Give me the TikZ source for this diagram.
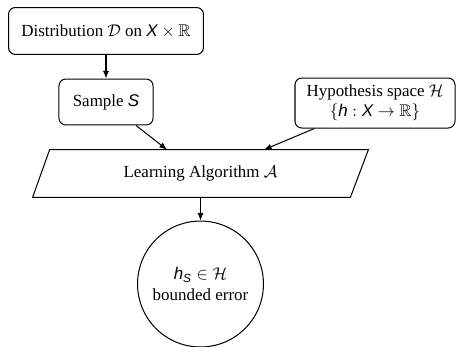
\documentclass[tikz,border=0pt]{standalone}
\usepackage{amsmath,amssymb}
\usepackage{fontspec}
\setmainfont{Liberation Serif}
\newfontfamily\mysans{Liberation Sans}
\newcommand{\sv}[1]{\text{\mysans\itshape #1}}
\usetikzlibrary{calc,arrows.meta}
\begin{document}
\begin{tikzpicture}[x=0.59pt,y=-0.59pt,
  box/.style={draw, rounded corners=4pt, align=center, inner sep=0pt, line width=0.6pt},
  arr/.style={-{Latex[length=4.5pt,width=3.6pt]}, line width=0.6pt}]
\useasboundingbox (0,0) rectangle (456,346);
\node[box, minimum width=115pt, minimum height=27.7pt] (dist) at (106,31) {Distribution $\mathcal{D}$ on $\sv{X}\times\mathbb{R}$};
\node[box, minimum width=55.5pt, minimum height=27.1pt] (sample) at (106,102) {Sample $\sv{S}$};
\node[box, minimum width=94.4pt, minimum height=29.5pt] (hyp) at (375,103) {Hypothesis space $\mathcal{H}$\\$\{\sv{h} : \sv{X} \rightarrow \mathbb{R}\}$};
\node[inner sep=0pt, minimum width=197.7pt, minimum height=27.7pt] (alg) at (200.5,173.5) {Learning Algorithm $\mathcal{A}$};
\draw[line width=0.6pt] (alg.south west) -- ($(alg.south east)+(-18,0)$) -- (alg.north east) -- ($(alg.north west)+(17,0)$) -- cycle;
\node[draw, circle, line width=0.6pt, minimum size=74.3pt, inner sep=0pt, align=center] (res) at (200.5,284) {$\sv{h}_{\sv{S}} \in \mathcal{H}$\\bounded error};
\coordinate (inA) at ($(alg.north)+(-33.5,0)$);
\coordinate (inB) at ($(alg.north)+(63.5,0)$);
\draw[arr] (dist) -- (sample);
\draw[arr] (sample) -- (inA);
\draw[arr] (hyp) -- (inB);
\draw[arr] (alg) -- (res);
\end{tikzpicture}
\end{document}
